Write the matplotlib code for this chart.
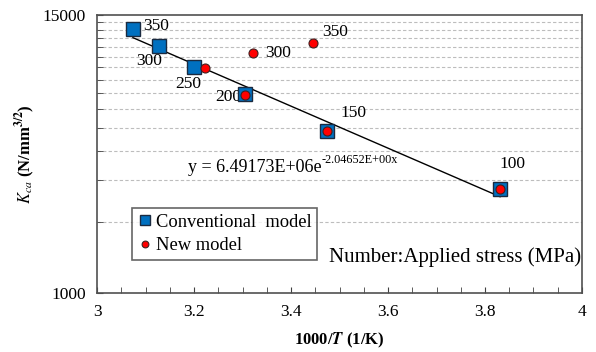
import numpy as np
import matplotlib
matplotlib.use("Agg")
import matplotlib.pyplot as plt
from matplotlib.ticker import FixedLocator, NullFormatter, FormatStrFormatter, MultipleLocator

plt.rcParams["font.family"] = ["Liberation Serif", "DejaVu Serif"]
plt.rcParams["mathtext.fontset"] = "stix"

# data
conv_x = [3.074, 3.128, 3.199, 3.305, 3.4735, 3.831]
conv_k = [13140, 11130, 9010, 6950, 4826, 2751]
conv_stress = ["350", "300", "250", "200", "150", "100"]

new_x = [3.2227, 3.305, 3.3223, 3.446, 3.4735, 3.831]
new_k = [8960, 6902, 10368, 11430, 4826, 2751]
new_stress = ["", "", "300", "350", "", ""]

# fitted curve from the chart, y = a * exp(b * x)
fit_a = 6.49173e6
fit_b = -2.04652

# label offsets (points) for each annotated point
conv_off = [(17, 2), (-7, -11), (-4, -12), (-12, -2), (19, 13), (9, 18)]
new_off = [(0, 0), (0, 0), (18, 0), (16, 8), (0, 0), (0, 0)]

fig = plt.figure(figsize=(5.96, 3.52), dpi=100)
ax = fig.add_axes([0.1628, 0.1676, 0.8137, 0.7898])

ax.set_yscale("log")
ax.set_xlim(3, 4)
ax.set_ylim(1000, 15000)

# trend line
xf = np.linspace(min(conv_x), max(conv_x), 50)
ax.plot(xf, fit_a * np.exp(fit_b * xf), color="black", lw=1, zorder=3)

ax.plot(conv_x, conv_k, "s", ms=10, mfc="#0070C0", mec="#1a2a40", mew=1,
        label="Conventional  model", zorder=4)
ax.plot(new_x, new_k, "o", ms=6.5, mfc="#FF0000", mec="#402020", mew=0.8,
        label="New model", zorder=5)

for x, k, s, off in zip(conv_x, conv_k, conv_stress, conv_off):
    if s:
        ax.annotate(s, (x, k), xytext=off, textcoords="offset points",
                    ha="center", va="center", fontsize=12.5, zorder=2)
for x, k, s, off in zip(new_x, new_k, new_stress, new_off):
    if s:
        ax.annotate(s, (x, k), xytext=off, textcoords="offset points",
                    ha="center", va="center", fontsize=12.5, zorder=2)

# equation with a small superscript exponent
eq = ax.text(0.187, 0.45, "y = 6.49173E+06e", transform=ax.transAxes,
             fontsize=13, ha="left", va="center")
ax.annotate("-2.04652E+00x", xy=(1, 0.62), xycoords=eq, fontsize=8.8,
            ha="left", va="bottom")

ax.text(0.479, 0.13, "Number:Applied stress (MPa)", transform=ax.transAxes,
        fontsize=15, ha="left", va="center")

# axes ticks
ax.yaxis.set_major_locator(FixedLocator([1000, 15000]))
ax.yaxis.set_major_formatter(FormatStrFormatter("%d"))
ax.yaxis.set_minor_locator(FixedLocator(np.arange(2000, 15000, 1000)))
ax.yaxis.set_minor_formatter(NullFormatter())
ax.xaxis.set_major_locator(MultipleLocator(0.2))
ax.xaxis.set_minor_locator(MultipleLocator(0.05))
ax.xaxis.set_major_formatter(FormatStrFormatter("%g"))
ax.tick_params(which="both", direction="in", length=4, color="#404040",
               labelsize=12.5, pad=8)
ax.grid(which="minor", axis="y", ls=(0, (3, 2)), color="#bdbdbd", lw=0.8)
for sp in ax.spines.values():
    sp.set_color("#505050")
    sp.set_linewidth(1.2)

ax.set_xlabel(r"1000/$\boldsymbol{T}$ (1/K)", fontsize=12, fontweight="bold", labelpad=8)
ax.set_ylabel(r"$\boldsymbol{K_{ca}}$ (N/mm$^{\mathbf{3/2}}$)", fontsize=12,
              fontweight="bold", labelpad=4)

leg = ax.legend(loc="lower left", bbox_to_anchor=(0.072, 0.119), fontsize=13.3,
                frameon=True, fancybox=False, edgecolor="#404040",
                handlelength=0.8, handletextpad=0.2, borderpad=0.3,
                labelspacing=0.35, markerscale=0.75, borderaxespad=0)
leg.get_frame().set_linewidth(1.2)

fig.savefig("out.png", dpi=100)
